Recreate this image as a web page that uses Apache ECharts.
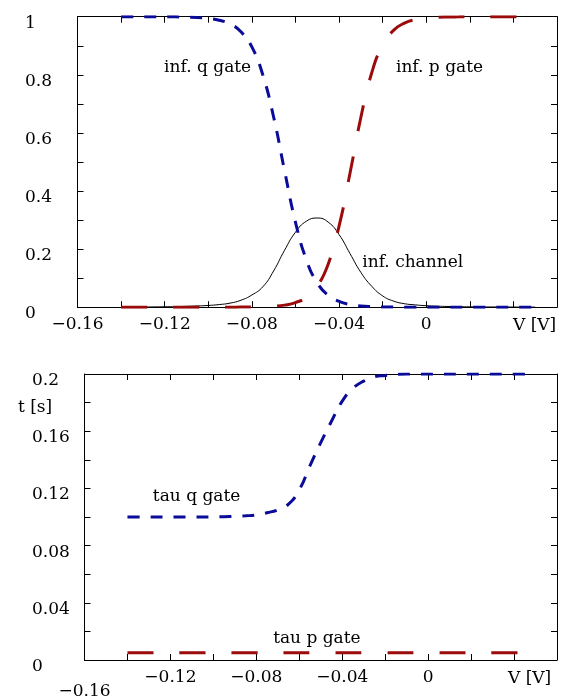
<!DOCTYPE html>
<html>
<head>
<meta charset="utf-8">
<script src="https://cdn.jsdelivr.net/npm/echarts@6/dist/echarts.min.js"></script>
<style>
html, body { margin: 0; padding: 0; background: #fff; }
#main { width: 569px; height: 700px; }
</style>
</head>
<body>
<div id="main"></div>
<script>
// membrane voltage samples (V), shared by both panels
var vSamples = [-0.14, -0.135, -0.13, -0.125, -0.12, -0.115, -0.11, -0.105, -0.1, -0.095,
    -0.09, -0.085, -0.08, -0.075, -0.07, -0.065, -0.06, -0.055, -0.05, -0.045,
    -0.04, -0.035, -0.03, -0.025, -0.02, -0.015, -0.01, -0.005, 0, 0.005,
    0.01, 0.015, 0.02, 0.025, 0.03, 0.035, 0.04, 0.045, 0.05];

// top panel: steady state values
var qInf = [1, 1, 1, 0.9999, 0.9997, 0.9994, 0.9988, 0.9975, 0.9944, 0.988,
    0.975, 0.948, 0.896, 0.80, 0.654, 0.47, 0.293, 0.163, 0.084, 0.041,
    0.02, 0.0093, 0.0044, 0.0021, 0.001, 0.0005, 0.0002, 0.0001, 0, 0,
    0, 0, 0, 0, 0, 0, 0, 0, 0];
var pInf = [0, 0, 0, 0, 0, 0, 0, 0, 0, 0.0001,
    0.0001, 0.0003, 0.0007, 0.0015, 0.0033, 0.0072, 0.016, 0.034, 0.073, 0.148,
    0.279, 0.46, 0.653, 0.807, 0.902, 0.953, 0.978, 0.99, 0.9955, 0.998,
    0.999, 0.9995, 1, 1, 1, 1, 1, 1, 1];
var channelInf = [0.0005, 0.0006, 0.0008, 0.001, 0.0015, 0.002, 0.003, 0.0043, 0.006, 0.009,
    0.014, 0.024, 0.042, 0.07, 0.125, 0.196, 0.258, 0.296, 0.307, 0.293,
    0.25, 0.185, 0.12, 0.072, 0.039, 0.021, 0.012, 0.008, 0.005, 0.0035,
    0.0025, 0.0018, 0.0013, 0.001, 0.0008, 0.0006, 0.0005, 0.0004, 0.0003];

// bottom panel: time constants (s)
var tauQ = [0.1, 0.1, 0.1, 0.1, 0.1, 0.1, 0.1, 0.1, 0.1, 0.1002,
    0.1004, 0.1008, 0.1015, 0.103, 0.105, 0.109, 0.119, 0.136, 0.152, 0.167,
    0.181, 0.19, 0.195, 0.198, 0.199, 0.1997, 0.2, 0.2, 0.2, 0.2,
    0.2, 0.2, 0.2, 0.2, 0.2, 0.2, 0.2, 0.2, 0.2];
var tauP = [0.005, 0.005, 0.005, 0.005, 0.005, 0.005, 0.005, 0.005, 0.005, 0.005,
    0.005, 0.005, 0.005, 0.005, 0.005, 0.005, 0.005, 0.005, 0.005, 0.005,
    0.005, 0.005, 0.005, 0.005, 0.005, 0.005, 0.005, 0.005, 0.005, 0.005,
    0.005, 0.005, 0.005, 0.005, 0.005, 0.005, 0.005, 0.005, 0.005];

// tick labels
var xLabelValues = [-0.16, -0.12, -0.08, -0.04, 0];
var yTopLabelValues = [0, 0.2, 0.4, 0.6, 0.8, 1];
var yBottomLabelValues = [0, 0.04, 0.08, 0.12, 0.16, 0.2];

var FONT = 'DejaVu Serif';
var BLUE = '#0b0b9a';
var RED = '#9b0b0b';

function pair(xs, ys) {
    var out = [];
    for (var i = 0; i < xs.length; i++) {
        out.push([xs[i], ys[i]]);
    }
    return out;
}

function inList(v, list) {
    for (var i = 0; i < list.length; i++) {
        if (Math.abs(v - list[i]) < 1e-9) return true;
    }
    return false;
}

function fmt(v) {
    return String(Math.round(v * 100) / 100).replace('-', '\u2212');
}

var axisLineStyle = { show: true, onZero: false, lineStyle: { color: '#000', width: 1 } };
var tickStyle = { show: true, inside: true, length: 6, lineStyle: { color: '#000', width: 1 } };

function xAxisMain(gridIndex, lowFirst) {
    return {
        type: 'value', gridIndex: gridIndex, position: 'bottom',
        min: -0.16, max: 0.06, interval: 0.02,
        axisLine: axisLineStyle, axisTick: tickStyle, splitLine: { show: false },
        name: 'V [V]', nameLocation: 'end', nameGap: gridIndex === 0 ? -44 : -49,
        nameTextStyle: { fontFamily: FONT, fontSize: 17, color: '#000', verticalAlign: 'top', padding: [10, 0, 0, 0] },
        axisLabel: {
            show: true, margin: 9, fontFamily: FONT, fontSize: 17, color: '#000',
            showMinLabel: true, showMaxLabel: true,
            formatter: function (v) {
                if (!inList(v, xLabelValues)) return '';
                if (lowFirst && Math.abs(v + 0.16) < 1e-9) return '{low|' + fmt(v) + '}';
                return fmt(v);
            },
            rich: { low: { fontFamily: FONT, fontSize: 17, color: '#000', padding: [14, 0, 0, 0] } }
        }
    };
}

function xAxisMirror(gridIndex) {
    return {
        type: 'value', gridIndex: gridIndex, position: 'top',
        min: -0.16, max: 0.06, interval: 0.02,
        axisLine: axisLineStyle, axisTick: tickStyle, splitLine: { show: false },
        axisLabel: { show: false }
    };
}

function yAxisMain(gridIndex, max, interval, labelValues) {
    return {
        type: 'value', gridIndex: gridIndex, position: 'left',
        min: 0, max: max, interval: interval,
        axisLine: axisLineStyle, axisTick: tickStyle, splitLine: { show: false },
        axisLabel: {
            show: true, margin: 52.5, align: 'left', verticalAlign: 'top', lineHeight: 13,
            fontFamily: FONT, fontSize: 17, color: '#000',
            showMinLabel: true, showMaxLabel: true,
            formatter: function (v) {
                return inList(v, labelValues) ? fmt(v) : '';
            }
        }
    };
}

function yAxisMirror(gridIndex, max, interval) {
    return {
        type: 'value', gridIndex: gridIndex, position: 'right',
        min: 0, max: max, interval: interval,
        axisLine: axisLineStyle, axisTick: tickStyle, splitLine: { show: false },
        axisLabel: { show: false }
    };
}

function curve(name, xi, yi, ys, color, width, dash) {
    return {
        name: name, type: 'line', xAxisIndex: xi, yAxisIndex: yi,
        data: pair(vSamples, ys), showSymbol: false, symbol: 'none',
        smooth: 0.5,
        lineStyle: { color: color, width: width, type: dash, cap: 'butt' },
        silent: true, z: 3
    };
}

// curve captions, anchored in data coordinates
function textMark(text, xi, yi, v, y) {
    return {
        type: 'scatter', xAxisIndex: xi, yAxisIndex: yi,
        data: [[v, y]], symbolSize: 0.1, itemStyle: { color: '#fff', opacity: 1 }, silent: true, z: 5,
        label: {
            show: true, position: 'inside', formatter: text,
            fontFamily: FONT, fontSize: 17, color: '#000', opacity: 1, textBorderWidth: 0
        }
    };
}

var chart = echarts.init(document.getElementById('main'), null, { renderer: 'canvas' });

var option = {
    animation: false,
    backgroundColor: '#fff',
    title: [{
        text: 't [s]', left: 13, top: 394,
        textStyle: { fontFamily: FONT, fontSize: 17, fontWeight: 'normal', color: '#000' }
    }],
    grid: [
        { left: 77.5, right: 12, top: 16.7, height: 290.5 },
        { left: 84.5, right: 12, top: 374, height: 290 }
    ],
    xAxis: [xAxisMain(0, false), xAxisMirror(0), xAxisMain(1, true), xAxisMirror(1)],
    yAxis: [yAxisMain(0, 1, 0.1, yTopLabelValues), yAxisMirror(0, 1, 0.1),
            yAxisMain(1, 0.2, 0.02, yBottomLabelValues), yAxisMirror(1, 0.2, 0.02)],
    series: [
        curve('inf. channel', 0, 0, channelInf, '#000', 1, 'solid'),
        curve('inf. q gate', 0, 0, qInf, BLUE, 3, [12, 11]),
        curve('inf. p gate', 0, 0, pInf, RED, 3, [26, 26]),
        curve('tau q gate', 2, 2, tauQ, BLUE, 3, [12, 11]),
        curve('tau p gate', 2, 2, tauP, RED, 3, [26, 26]),
        textMark('inf. q gate', 0, 0, -0.1003, 0.824),
        textMark('inf. p gate', 0, 0, 0.0061, 0.824),
        textMark('inf. channel', 0, 0, -0.0062, 0.155),
        textMark('tau q gate', 2, 2, -0.1078, 0.1145),
        textMark('tau p gate', 2, 2, -0.0518, 0.0152)
    ]
};

chart.setOption(option);
</script>
</body>
</html>
